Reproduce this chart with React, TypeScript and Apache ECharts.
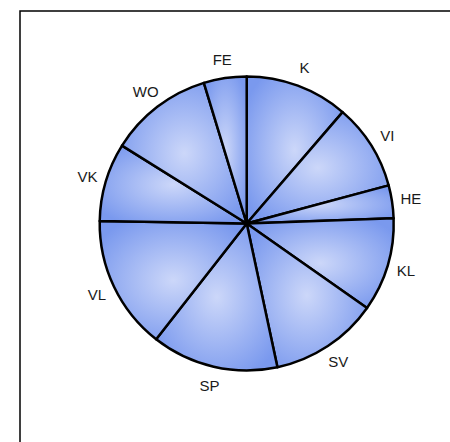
import React, { useEffect, useRef } from "react";
import * as echarts from "echarts";

const categories = ["K", "VI", "HE", "KL", "SV", "SP", "VL", "VK", "WO", "FE"];
const values = [11.3, 9.5, 3.6, 10.3, 11.9, 13.9, 14.7, 8.6, 11.4, 4.7];

export default function App() {
  const ref = useRef<HTMLDivElement>(null);
  useEffect(() => {
    if (!ref.current) return;
    const chart = echarts.init(ref.current, null, { renderer: "svg" });
    const fill = {
      type: "radial",
      x: 0.5,
      y: 0.5,
      r: 0.6,
      colorStops: [
        { offset: 0, color: "#ccd7f9" },
        { offset: 1, color: "#7a99ee" },
      ],
    };
    const data = categories.map((c, i) => ({ name: c, value: values[i] }));
    chart.setOption({
      animation: false,
      backgroundColor: "#ffffff",
      graphic: [
        {
          type: "rect",
          shape: { x: 20, y: 11, width: 460, height: 460 },
          style: { fill: "none", stroke: "#000", lineWidth: 1.5 },
          silent: true,
        },
      ],
      series: [
        {
          type: "pie",
          center: [246.7, 223.5],
          radius: [0, 147],
          startAngle: 90,
          clockwise: true,
          silent: true,
          label: { show: false },
          labelLine: { show: false },
          emphasis: { disabled: true },
          itemStyle: { color: fill as any, borderColor: "#000", borderWidth: 2.5 },
          data,
        },
        {
          type: "pie",
          center: [246.7, 223.5],
          radius: [148, 178],
          startAngle: 90,
          clockwise: true,
          silent: true,
          emphasis: { disabled: true },
          itemStyle: { color: "rgba(0,0,0,0)", borderWidth: 0 },
          labelLine: { show: false },
          label: {
            show: true,
            position: "inside",
            formatter: "{b}",
            color: "#1a1a1a",
            fontSize: 15,
            fontFamily: "Liberation Sans, Arial, sans-serif",
          },
          data,
        },
      ],
    });
    return () => chart.dispose();
  }, []);
  return (
    <div
      ref={ref}
      style={{ position: "absolute", left: 0, top: 0, width: 450, height: 442 }}
    />
  );
}
